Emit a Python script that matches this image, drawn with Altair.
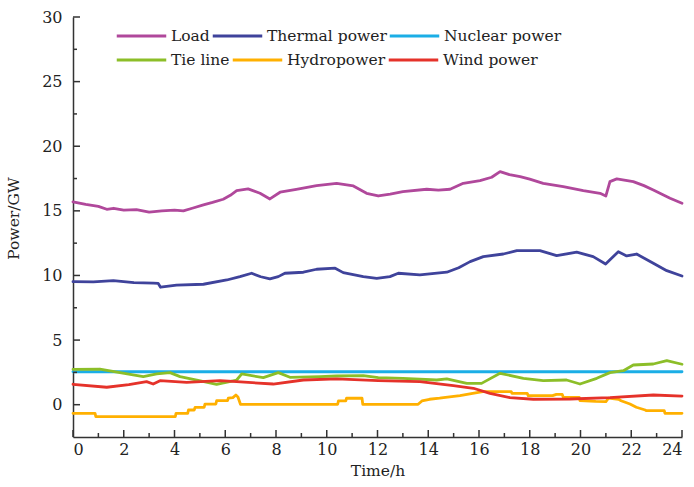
import altair as alt
import pandas as pd

series_names = ["Load", "Thermal power", "Nuclear power", "Tie line", "Hydropower", "Wind power"]
series_colors = ["#B0489B", "#3F439B", "#1BAEE6", "#8CBE28", "#FFB000", "#E5322A"]

load_t = [0, 0.5, 1.0, 1.33, 1.6, 2.0, 2.5, 3.0, 3.5, 4.0, 4.35, 4.7, 5.14, 5.5, 5.92, 6.2, 6.45, 6.9,
          7.37, 7.76, 8.16, 8.8, 9.6, 10.39, 11.05, 11.57, 12.03, 12.5, 13.0, 13.94, 14.4, 14.86, 15.38,
          16.04, 16.5, 16.83, 17.2, 17.62, 18.0, 18.53, 19.32, 20.11, 20.77, 21.0, 21.16, 21.43, 22.08,
          22.5, 22.87, 23.53, 24]
load_v = [15.7, 15.5, 15.35, 15.12, 15.2, 15.05, 15.1, 14.9, 15.0, 15.05, 15.0, 15.2, 15.46, 15.65, 15.9,
          16.2, 16.56, 16.7, 16.36, 15.92, 16.44, 16.67, 16.95, 17.13, 16.93, 16.36, 16.15, 16.3, 16.49,
          16.67, 16.6, 16.67, 17.13, 17.34, 17.6, 18.04, 17.8, 17.65, 17.45, 17.13, 16.87, 16.56, 16.36,
          16.15, 17.26, 17.47, 17.26, 16.95, 16.62, 15.98, 15.59]

thermal_t = [0, 0.8, 1.59, 2.4, 3.17, 3.36, 3.45, 4.08, 5.14, 6.06, 6.58, 7.04, 7.4, 7.76, 8.09, 8.35,
             9.08, 9.6, 10.33, 10.65, 11.44, 11.97, 12.49, 12.82, 13.67, 14.73, 15.2, 15.65, 16.17, 16.96,
             17.49, 18.4, 18.7, 19.06, 19.85, 20.5, 20.99, 21.49, 21.82, 22.21, 22.87, 23.4, 24]
thermal_v = [9.52, 9.5, 9.6, 9.45, 9.4, 9.38, 9.09, 9.26, 9.32, 9.65, 9.91, 10.17, 9.9, 9.73, 9.91, 10.17,
             10.25, 10.48, 10.56, 10.22, 9.91, 9.78, 9.91, 10.17, 10.04, 10.25, 10.6, 11.07, 11.46, 11.66,
             11.92, 11.92, 11.75, 11.53, 11.8, 11.46, 10.89, 11.84, 11.51, 11.66, 10.94, 10.37, 9.96]

nuclear_t = [0, 24]
nuclear_v = [2.55, 2.55]

tie_t = [0, 1.06, 1.85, 2.77, 3.3, 3.82, 4.22, 4.88, 5.66, 6.45, 6.65, 7.5, 8.09, 8.55, 9.73, 10.39,
         11.44, 12.03, 13.0, 14.33, 14.73, 15.52, 16.1, 16.83, 17.75, 18.53, 19.45, 19.98, 20.64, 21.16,
         21.69, 22.08, 22.87, 23.4, 24]
tie_v = [2.74, 2.76, 2.48, 2.17, 2.38, 2.48, 2.17, 1.91, 1.58, 1.91, 2.38, 2.09, 2.48, 2.12, 2.17, 2.22,
         2.25, 2.09, 2.04, 1.91, 1.99, 1.65, 1.65, 2.43, 2.04, 1.86, 1.91, 1.6, 2.04, 2.48,
         2.63, 3.07, 3.15, 3.41, 3.13]

hydro_t = [0, 0.87, 0.9, 4.03, 4.06, 4.52, 4.55, 4.78, 4.81, 5.17, 5.2, 5.63, 5.66, 6.09, 6.12, 6.3,
           6.42, 6.5, 6.6, 10.43, 10.46, 10.75, 10.78, 11.39, 11.42, 13.6, 13.75, 14.05, 14.45, 14.6,
           15.25, 15.75, 16.15, 17.27, 17.3, 17.9, 17.94, 18.9, 19.05, 19.28, 19.32, 19.95, 19.98, 20.6,
           21.0, 21.1, 21.5, 21.6, 21.95, 22.2, 22.55, 22.6, 23.3, 23.33, 24]
hydro_v = [-0.67, -0.67, -0.93, -0.93, -0.67, -0.67, -0.41, -0.41, -0.2, -0.2, 0.05, 0.05, 0.31, 0.31,
           0.5, 0.55, 0.75, 0.6, 0.03, 0.03, 0.29, 0.29, 0.5, 0.5, 0.03, 0.03, 0.29, 0.42, 0.5, 0.55,
           0.7, 0.88, 1.01, 1.01, 0.88, 0.88, 0.7, 0.7, 0.8, 0.8, 0.57, 0.57, 0.31, 0.25,
           0.23, 0.5, 0.42, 0.31, 0.05, -0.2, -0.41, -0.46, -0.46, -0.67, -0.67]

wind_t = [0, 1.33, 2.2, 2.9, 3.16, 3.43, 4.48, 5.79, 6.45, 7.89, 9.08, 10.39, 12.03, 13.67, 14.99,
          15.78, 16.43, 17.22, 18.14, 19.59, 21.16, 22.87, 24]
wind_v = [1.58, 1.35, 1.55, 1.78, 1.6, 1.86, 1.73, 1.86, 1.78, 1.6, 1.91, 1.99, 1.86, 1.78, 1.47,
          1.27, 0.88, 0.54, 0.42, 0.44, 0.54, 0.75, 0.67]

x_major = [0, 2, 4, 6, 8, 10, 12, 14, 16, 18, 20, 22, 24]
x_minor = [1, 3, 5, 7, 9, 11, 13, 15, 17, 19, 21, 23]
y_major = [0, 5, 10, 15, 20, 25, 30]
y_minor = [2.5, 7.5, 12.5, 17.5, 22.5, 27.5]

rows = []
for name, ts, vs in zip(series_names,
                        [load_t, thermal_t, nuclear_t, tie_t, hydro_t, wind_t],
                        [load_v, thermal_v, nuclear_v, tie_v, hydro_v, wind_v]):
    for i, (t, v) in enumerate(zip(ts, vs)):
        rows.append({"series": name, "t": t, "v": v, "idx": i})
df = pd.DataFrame(rows)

FONT = "DejaVu Serif"
TXT = "#222222"
W, H = 609, 420
xs = alt.Scale(domain=[0, 24], nice=False, zero=False)
ys = alt.Scale(domain=[-2.5, 30], nice=False, zero=False)
x_axis = alt.Axis(values=x_major, ticks=False, tickSize=0, grid=False, labelPadding=4,
                  titlePadding=6, format="d")
y_axis = alt.Axis(values=y_major, ticks=False, tickSize=0, grid=False, labelPadding=11,
                  titlePadding=20, titleY=201, format="d")


def line_group(names, colors, ly):
    sub = df[df["series"].isin(names)]
    return alt.Chart(sub).mark_line(strokeWidth=2.8, strokeCap="round", strokeJoin="round").encode(
        x=alt.X("t:Q", scale=xs, title="Time/h", axis=x_axis),
        y=alt.Y("v:Q", scale=ys, title="Power/GW", axis=y_axis),
        color=alt.Color("series:N", scale=alt.Scale(domain=names, range=colors), sort=names,
                        legend=alt.Legend(title=None, orient="none", legendX=42, legendY=ly,
                                          direction="horizontal",
                                          symbolType="stroke", symbolSize=2450, symbolStrokeWidth=3,
                                          clipHeight=18, columnPadding=1, labelOffset=3,
                                          labelFont=FONT, labelFontSize=15.5, labelColor=TXT,
                                          padding=0)),
        order="idx:Q",
    )


lines_a = line_group(series_names[:3], series_colors[:3], 10)
lines_b = line_group(series_names[3:], series_colors[3:], 34)


def xticks(vals, length):
    return alt.Chart(pd.DataFrame({"t": vals})).mark_rule(color="#333333", strokeWidth=1.5).encode(
        x=alt.X("t:Q", scale=xs, title="Time/h", axis=x_axis), y=alt.value(H), y2=alt.value(H - length))


def yticks(vals, length):
    return alt.Chart(pd.DataFrame({"v": vals})).mark_rule(color="#333333", strokeWidth=1.5).encode(
        y=alt.Y("v:Q", scale=ys, title="Power/GW", axis=y_axis), x=alt.value(0), x2=alt.value(length))


chart = alt.layer(
    lines_a, lines_b, xticks(x_major, 7), xticks(x_minor, 4), yticks(y_major, 7), yticks(y_minor, 4)
).resolve_scale(color="independent").properties(
    width=W, height=H,
    autosize=alt.AutoSizeParams(type="none"),
    padding={"left": 73, "top": 17, "right": 12, "bottom": 50},
).configure_view(stroke=None).configure_axis(
    domainColor="#333333", domainWidth=1.5,
    labelFont=FONT, labelFontSize=16, labelColor=TXT,
    titleFont=FONT, titleFontSize=15.5, titleColor=TXT, titleFontWeight="normal",
)

chart.save("out.html", embed_options={"renderer": "svg", "actions": False})
